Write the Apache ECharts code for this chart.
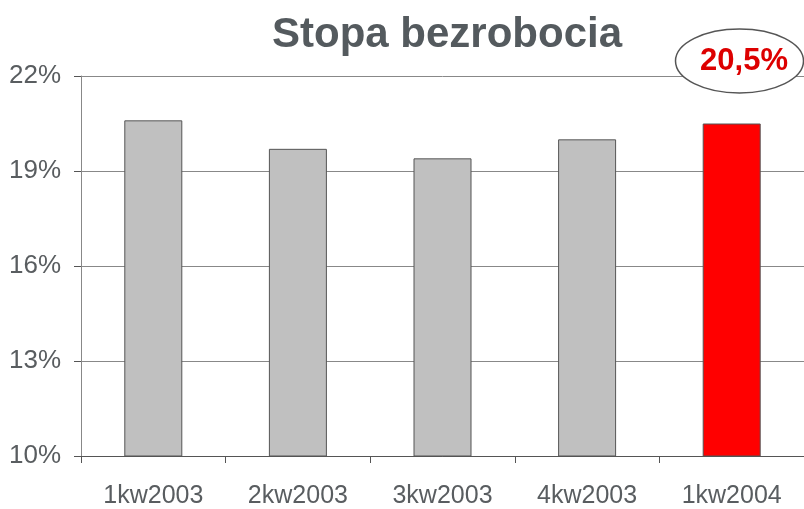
<!DOCTYPE html>
<html><head><meta charset="utf-8">
<script src="https://cdn.jsdelivr.net/npm/echarts@6/dist/echarts.min.js"></script>
<style>html,body{margin:0;padding:0;background:#fff}#c{width:804px;height:509px}</style>
</head><body><div id="c"></div>
<script>
const categories = ['1kw2003', '2kw2003', '3kw2003', '4kw2003', '1kw2004'];
const values = [20.6, 19.7, 19.4, 20.0, 20.5];
const yTicks = [10, 13, 16, 19, 22];
const titleText = 'Stopa bezrobocia';
const calloutText = '20,5%';

const chart = echarts.init(document.getElementById('c'), null, {renderer: 'canvas'});
const font = '"Liberation Sans", Arial, sans-serif';
chart.setOption({
  animation: false,
  backgroundColor: '#ffffff',
  title: {
    text: titleText, left: 442, top: 9, textAlign: 'center',
    textStyle: {fontFamily: font, fontSize: 42, fontWeight: 'bold', color: '#545a5e'}
  },
  grid: {left: 81, top: 76, width: 725, height: 383, containLabel: false},
  xAxis: {
    type: 'category', data: categories, boundaryGap: true,
    axisLine: {lineStyle: {color: '#555', width: 1}},
    axisTick: {show: true, length: 7, alignWithLabel: false, lineStyle: {color: '#555'}},
    axisLabel: {fontFamily: font, fontSize: 25, color: '#595d60', margin: 28}
  },
  yAxis: {
    type: 'value', min: yTicks[0], max: yTicks[yTicks.length - 1], interval: yTicks[1] - yTicks[0],
    axisLine: {show: true, lineStyle: {color: '#888', width: 1}},
    axisTick: {show: true, length: 7, lineStyle: {color: '#555'}},
    splitLine: {lineStyle: {color: '#888', width: 1}},
    axisLabel: {fontFamily: font, fontSize: 26, color: '#595d60', margin: 20, formatter: '{value}%'}
  },
  series: [{
    type: 'bar', barWidth: 58,
    data: values.map((v, i) => ({
      value: v,
      itemStyle: {color: i === values.length - 1 ? '#ff0000' : '#c0c0c0', borderColor: '#555', borderWidth: 1}
    }))
  }],
  graphic: [
    {type: 'ellipse', shape: {cx: 739.5, cy: 61, rx: 64, ry: 32}, z: 100,
     style: {fill: '#fff', stroke: '#555', lineWidth: 1.5}},
    {type: 'text', x: 744, y: 61, z: 101,
     style: {text: calloutText, fill: '#dd0000', font: 'bold 31px ' + font, textAlign: 'center', textVerticalAlign: 'middle'}}
  ]
});
</script></body></html>
